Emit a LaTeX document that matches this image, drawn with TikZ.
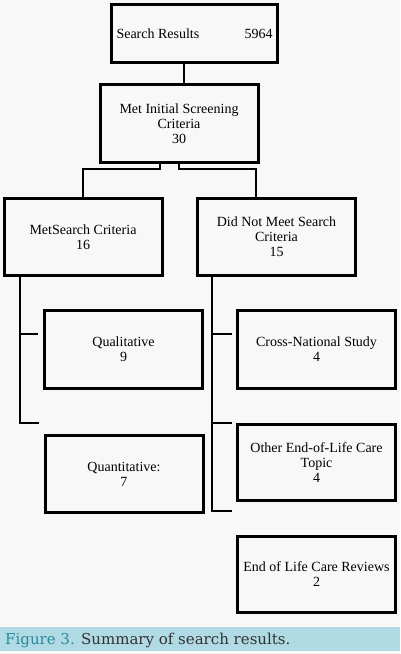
\documentclass[tikz,border=0pt]{standalone}
\usepackage{fontspec}
\setmainfont{Liberation Serif}
\newfontfamily\capfont{DejaVu Serif}
\definecolor{bgc}{HTML}{F8F8F8}
\definecolor{bandc}{HTML}{B0DAE4}
\definecolor{figc}{HTML}{2E8A9A}
\definecolor{capt}{HTML}{333333}
\tikzset{
  boxn/.style={draw=black, line width=3pt, minimum width=#1, align=center,
    font=\fontsize{14}{15}\selectfont, inner sep=0pt},
  boxn/.default=158pt,
  conn/.style={draw=black, line width=2.5pt}
}
\begin{document}
\begin{tikzpicture}[x=1pt,y=-1pt]
\fill[bgc] (0,0) rectangle (400,654);
\useasboundingbox (0,0) rectangle (400,654);
% caption band
\fill[bandc] (0,627) rectangle (400,651);
\node[anchor=west, inner sep=0pt, font=\capfont\fontsize{15}{16}\selectfont] (cap) at (5,640)
  {\textcolor{figc}{Figure 3.} \textcolor{capt}{Summary of search results.}};
% boxes
\node[boxn=166pt, minimum height=58pt] (top) at (194.5,33.5)
  {\makebox[156pt]{Search Results\hfill 5964}};
\node[boxn, minimum height=78pt] (mi) at (179,123.5) {Met Initial Screening\\Criteria\\30};
\node[boxn, minimum height=77pt] (ms) at (83,237) {MetSearch Criteria\\16};
\node[boxn, minimum height=77pt] (dn) at (276.5,237) {Did Not Meet Search\\Criteria\\15};
\node[boxn, minimum height=78pt] (ql) at (123.5,349.5) {Qualitative\\9};
\node[boxn, minimum height=78pt] (cn) at (316.5,349.5) {Cross-National Study\\4};
\node[boxn, minimum height=77pt] (qt) at (124,474) {Quantitative:\\7};
\node[boxn, minimum height=76pt] (ot) at (316.5,462.5) {Other End-of-Life Care\\Topic\\4};
\node[boxn, minimum height=76pt] (rv) at (316.5,574.5) {End of Life Care Reviews\\2};
% connectors
\draw[conn] ([xshift=-10.5pt]top.south) -- ([xshift=5pt]mi.north);
\draw[conn] ([xshift=-19pt]mi.south) -- ++(0,5) -| (ms.north);
\draw[conn] (mi.south) -- ++(0,5) -| ([xshift=-20.5pt]dn.north);
\draw[conn] ([xshift=-63pt]ms.south) |- ([xshift=-5pt,yshift=11pt]qt.north west);
\draw[conn] ([xshift=-5pt,yshift=15.5pt]ql.west) -- ++(-18,0);
\draw[conn] ([xshift=-64.5pt]dn.south) |- ([xshift=-4pt,yshift=-9pt]ot.south west);
\draw[conn] ([xshift=-4pt,yshift=15.5pt]cn.west) -- ++(-20,0);
\draw[conn] ([xshift=-4pt]ot.north west) -- ++(-20,0);
\end{tikzpicture}
\end{document}
